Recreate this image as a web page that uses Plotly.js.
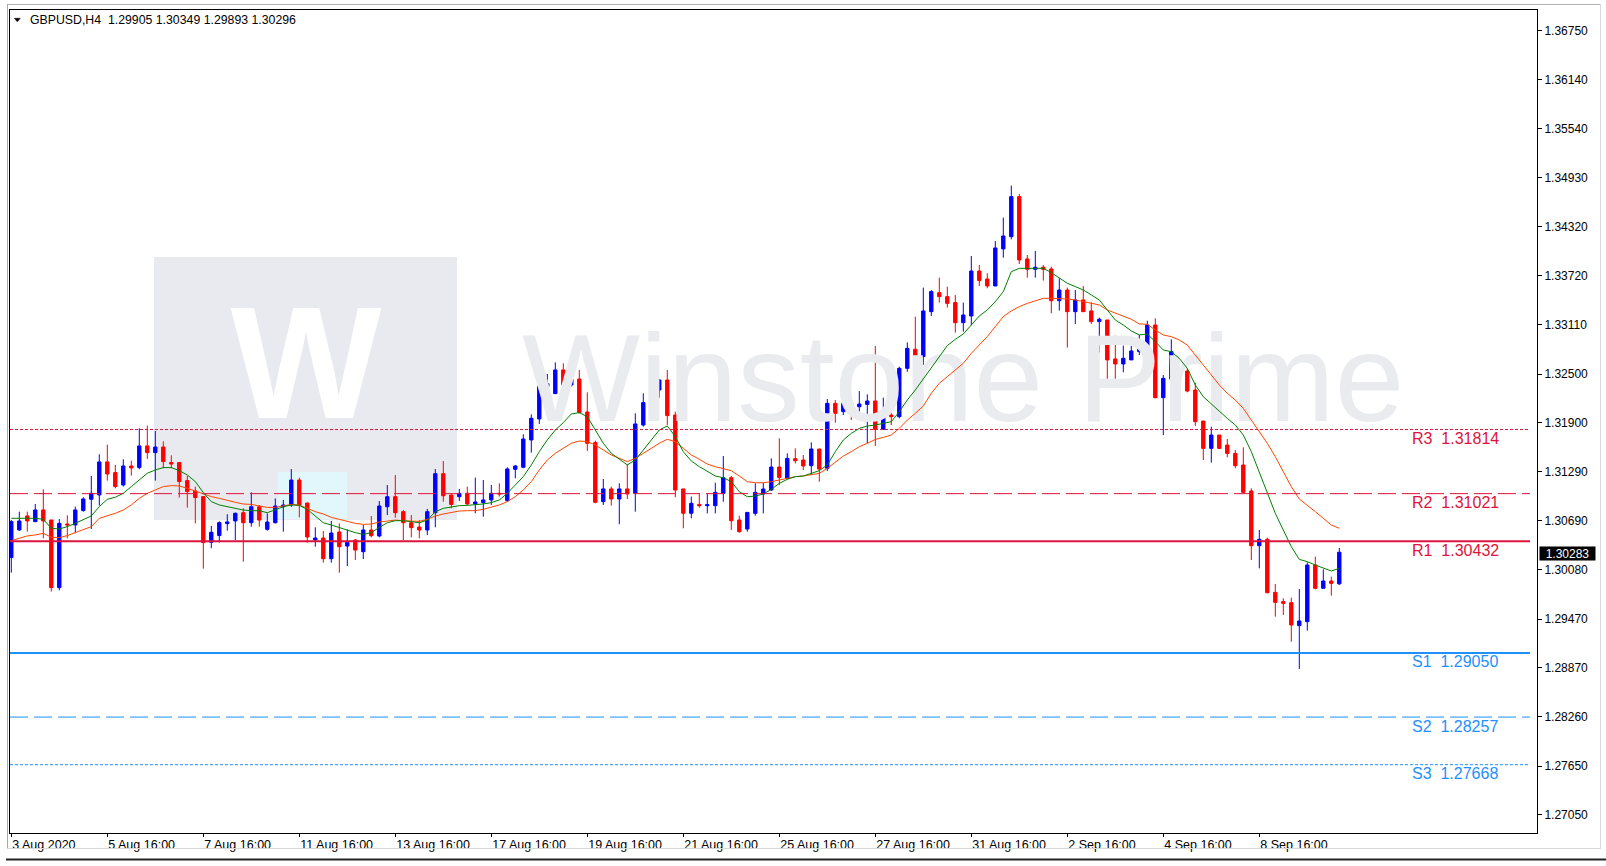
<!DOCTYPE html>
<html><head><meta charset="utf-8">
<script src="https://cdn.plot.ly/plotly-3.0.1.min.js"></script>
<style>html,body{margin:0;padding:0;background:#fff;}#chart{width:1606px;height:866px;}</style>
</head><body><div id="chart"></div>
<script>
// ---- data ----
const symbolTitle = "GBPUSD,H4";
const lastBarOHLC = [1.29905, 1.30349, 1.29893, 1.30296];
const currentPrice = 1.30283;

const openP = [1.30230,1.30572,1.30745,1.30675,1.30819,1.30695,1.29858,1.30646,1.30634,1.30811,
1.30951,1.31005,1.31413,1.31281,1.31128,1.31363,1.31343,1.31611,1.31528,1.31598,
1.31405,1.31405,1.31182,1.31054,1.30984,1.30419,1.30502,1.30650,1.30683,1.30785,
1.30661,1.30859,1.30579,1.30661,1.30859,1.30880,1.31189,1.30905,1.30447,1.30472,
1.30216,1.30546,1.30373,1.30447,1.30303,1.30571,1.30497,1.30859,1.30983,1.30798,
1.30661,1.30608,1.30571,1.30785,1.31268,1.31004,1.30983,1.31025,1.30893,1.30910,
1.30943,1.31025,1.30934,1.31322,1.31347,1.31685,1.31945,1.32344,1.32258,1.32551,
1.32365,1.32439,1.32031,1.31652,1.30922,1.31079,1.30955,1.31079,1.31025,1.31870,
1.32118,1.32303,1.32427,1.31994,1.31079,1.30778,1.30888,1.30872,1.30872,1.31024,
1.31218,1.30695,1.30583,1.30777,1.31016,1.31066,1.31350,1.31210,1.31453,1.31437,
1.31367,1.31573,1.31334,1.32138,1.32035,1.32138,1.32096,1.32125,1.32167,1.31816,
1.31993,1.31973,1.32571,1.32807,1.32716,1.33272,1.33507,1.33458,1.33384,1.33136,
1.33219,1.33775,1.33676,1.33590,1.34048,1.34200,1.34695,1.33924,1.33796,1.33821,
1.33800,1.33408,1.33540,1.33272,1.33417,1.33281,1.33149,1.33169,1.32687,1.32625,
1.32675,1.32778,1.32798,1.33107,1.32208,1.32439,1.32550,1.32538,1.32303,1.31919,
1.31581,1.31746,1.31622,1.31519,1.31375,1.31054,1.30377,1.30456,1.29800,1.29685,
1.29672,1.29388,1.29437,1.30138,1.29850,1.29940,1.29905];

const highP = [1.30695,1.30798,1.30798,1.30893,1.31075,1.30695,1.30708,1.30753,1.30860,1.30976,
1.31240,1.31508,1.31627,1.31376,1.31446,1.31429,1.31829,1.31862,1.31796,1.31668,
1.31495,1.31405,1.31240,1.31108,1.30984,1.30621,1.30679,1.30766,1.30786,1.30839,
1.31037,1.30880,1.30777,1.30962,1.30942,1.31325,1.31218,1.30905,1.30604,1.30558,
1.30682,1.30653,1.30579,1.30459,1.30633,1.30744,1.30929,1.31127,1.31251,1.30818,
1.30756,1.30694,1.30831,1.31325,1.31424,1.31010,1.31078,1.31108,1.31219,1.31190,
1.31128,1.31149,1.31347,1.31376,1.31755,1.32002,1.32415,1.32501,1.32645,1.32633,
1.32674,1.32551,1.32274,1.31677,1.31202,1.31108,1.31149,1.31384,1.32015,1.32262,
1.32353,1.32440,1.32551,1.32035,1.31079,1.30984,1.31024,1.31024,1.31156,1.31486,
1.31239,1.30748,1.30789,1.31148,1.31156,1.31457,1.31705,1.31519,1.31581,1.31499,
1.31655,1.31573,1.32191,1.32179,1.32241,1.32220,1.32290,1.32249,1.32847,1.32208,
1.32063,1.32591,1.32892,1.33211,1.33569,1.33540,1.33693,1.33582,1.33479,1.33384,
1.33961,1.33850,1.33747,1.34146,1.34435,1.34831,1.34728,1.33973,1.34023,1.33850,
1.33829,1.33685,1.33569,1.33540,1.33590,1.33388,1.33198,1.33169,1.32976,1.32852,
1.32852,1.32984,1.33160,1.33189,1.32488,1.32929,1.32600,1.32571,1.32393,1.31919,
1.31849,1.31746,1.31697,1.31561,1.31594,1.31087,1.30571,1.30476,1.29903,1.29726,
1.29734,1.29841,1.30171,1.30241,1.30085,1.29994,1.30349];

const lowP = [1.30044,1.30559,1.30551,1.30667,1.30469,1.29809,1.29825,1.30469,1.30530,1.30798,
1.30584,1.30873,1.31182,1.31087,1.31108,1.31244,1.31322,1.31450,1.31182,1.31334,
1.31334,1.30972,1.30848,1.30654,1.30093,1.30345,1.30415,1.30563,1.30448,1.30179,
1.30612,1.30612,1.30563,1.30653,1.30550,1.30859,1.30727,1.30414,1.30365,1.30167,
1.30167,1.30043,1.30126,1.30200,1.30212,1.30480,1.30480,1.30756,1.30723,1.30447,
1.30480,1.30468,1.30509,1.30604,1.30921,1.30839,1.30929,1.30881,1.30778,1.30736,
1.30881,1.30984,1.30922,1.31211,1.31334,1.31528,1.31883,1.32320,1.32258,1.32344,
1.32344,1.32015,1.31549,1.30901,1.30881,1.30873,1.30642,1.30955,1.30798,1.31850,
1.32056,1.32208,1.31870,1.30976,1.30592,1.30716,1.30847,1.30777,1.30777,1.30921,
1.30571,1.30538,1.30550,1.30748,1.30777,1.31057,1.31127,1.31198,1.31395,1.31313,
1.31251,1.31169,1.31301,1.31898,1.31993,1.31932,1.31973,1.31643,1.31610,1.31808,
1.31870,1.31952,1.32529,1.32683,1.32613,1.33219,1.33384,1.33322,1.33013,1.33025,
1.33107,1.33590,1.33561,1.33590,1.33940,1.34167,1.33862,1.33693,1.33693,1.33656,
1.33252,1.33285,1.32827,1.33120,1.33272,1.33120,1.32765,1.32427,1.32415,1.32522,
1.32675,1.32736,1.32550,1.32200,1.31746,1.32406,1.32393,1.32274,1.31858,1.31437,
1.31404,1.31573,1.31470,1.31334,1.31025,1.30200,1.30097,1.29788,1.29499,1.29520,
1.29190,1.28852,1.29326,1.29837,1.29850,1.29759,1.29893];

const closeP = [1.30675,1.30683,1.30683,1.30819,1.30683,1.29858,1.30654,1.30634,1.30819,1.30955,
1.31025,1.31413,1.31264,1.31108,1.31363,1.31339,1.31611,1.31528,1.31598,1.31417,
1.31388,1.31170,1.31046,1.30972,1.30415,1.30543,1.30662,1.30671,1.30778,1.30661,
1.30859,1.30694,1.30670,1.30868,1.30880,1.31189,1.30880,1.30484,1.30472,1.30216,
1.30534,1.30365,1.30418,1.30323,1.30571,1.30501,1.30868,1.30983,1.30785,1.30661,
1.30600,1.30571,1.30798,1.31268,1.30995,1.30888,1.31024,1.30893,1.30918,1.30943,
1.31025,1.31017,1.31326,1.31363,1.31697,1.31953,1.32353,1.32382,1.32551,1.32365,
1.32439,1.32023,1.31644,1.30914,1.31079,1.30955,1.31079,1.31017,1.31883,1.32147,
1.32316,1.32427,1.31986,1.31066,1.30778,1.30901,1.30872,1.30884,1.31037,1.31218,
1.30686,1.30550,1.30789,1.31037,1.31078,1.31350,1.31222,1.31457,1.31428,1.31363,
1.31573,1.31325,1.32138,1.32014,1.32138,1.32096,1.32129,1.32167,1.31816,1.31993,
1.31973,1.32571,1.32818,1.32716,1.33281,1.33520,1.33458,1.33375,1.33136,1.33231,
1.33775,1.33656,1.33590,1.34060,1.34208,1.34695,1.33911,1.33796,1.33821,1.33796,
1.33408,1.33540,1.33272,1.33417,1.33272,1.33149,1.33178,1.32675,1.32625,1.32695,
1.32786,1.32811,1.33107,1.32208,1.32447,1.32777,1.32530,1.32290,1.31911,1.31581,
1.31746,1.31581,1.31519,1.31367,1.31037,1.30377,1.30456,1.29796,1.29676,1.29664,
1.29396,1.29446,1.30138,1.29850,1.29940,1.29911,1.30296];

// moving averages as drawn on the reference (fast = green, slow = orange-red)
const maFast = [1.30716,1.30716,1.30716,1.30716,1.30704,1.30592,1.30584,1.30613,1.30654,1.30695,
1.30745,1.30860,1.30951,1.30976,1.31025,1.31108,1.31190,1.31273,1.31314,1.31343,
1.31343,1.31306,1.31252,1.31170,1.31033,1.30922,1.30881,1.30860,1.30848,1.30818,
1.30810,1.30810,1.30785,1.30818,1.30859,1.30880,1.30876,1.30826,1.30744,1.30661,
1.30633,1.30600,1.30571,1.30538,1.30517,1.30538,1.30604,1.30661,1.30686,1.30686,
1.30674,1.30661,1.30694,1.30798,1.30839,1.30859,1.30872,1.30876,1.30881,1.30893,
1.30910,1.30943,1.31025,1.31128,1.31231,1.31376,1.31540,1.31685,1.31808,1.31899,
1.32006,1.32023,1.31973,1.31808,1.31644,1.31520,1.31446,1.31376,1.31437,1.31561,
1.31685,1.31808,1.31858,1.31726,1.31540,1.31425,1.31355,1.31301,1.31239,1.31218,
1.31169,1.31045,1.30983,1.30991,1.31016,1.31074,1.31148,1.31198,1.31231,1.31239,
1.31272,1.31305,1.31375,1.31540,1.31684,1.31767,1.31828,1.31857,1.31870,1.31890,
1.31911,1.32035,1.32179,1.32303,1.32439,1.32572,1.32716,1.32852,1.32930,1.32996,
1.33107,1.33219,1.33293,1.33396,1.33520,1.33767,1.33808,1.33808,1.33808,1.33808,
1.33755,1.33685,1.33623,1.33582,1.33540,1.33479,1.33417,1.33293,1.33169,1.33107,
1.33033,1.32984,1.32996,1.32901,1.32798,1.32777,1.32694,1.32571,1.32365,1.32220,
1.32130,1.32035,1.31952,1.31870,1.31746,1.31540,1.31293,1.31025,1.30777,1.30571,
1.30365,1.30208,1.30179,1.30138,1.30097,1.30064,1.30097];

const maSlow = [1.30440,1.30469,1.30498,1.30510,1.30530,1.30481,1.30477,1.30502,1.30539,1.30572,
1.30613,1.30716,1.30745,1.30778,1.30819,1.30881,1.30963,1.31025,1.31066,1.31108,
1.31120,1.31116,1.31087,1.31054,1.31017,1.30984,1.30963,1.30943,1.30914,1.30892,
1.30888,1.30868,1.30851,1.30851,1.30868,1.30888,1.30880,1.30839,1.30798,1.30769,
1.30727,1.30703,1.30674,1.30653,1.30641,1.30645,1.30670,1.30686,1.30694,1.30686,
1.30682,1.30678,1.30703,1.30744,1.30769,1.30785,1.30806,1.30810,1.30811,1.30827,
1.30852,1.30881,1.30922,1.30984,1.31066,1.31169,1.31314,1.31437,1.31520,1.31582,
1.31644,1.31672,1.31664,1.31623,1.31561,1.31499,1.31458,1.31417,1.31458,1.31520,
1.31582,1.31644,1.31693,1.31664,1.31582,1.31499,1.31446,1.31387,1.31354,1.31334,
1.31305,1.31239,1.31169,1.31156,1.31156,1.31169,1.31189,1.31214,1.31231,1.31239,
1.31251,1.31272,1.31334,1.31416,1.31486,1.31540,1.31602,1.31643,1.31692,1.31717,
1.31746,1.31828,1.31931,1.32015,1.32105,1.32262,1.32386,1.32468,1.32551,1.32633,
1.32757,1.32860,1.32963,1.33087,1.33211,1.33281,1.33334,1.33375,1.33404,1.33437,
1.33437,1.33437,1.33429,1.33417,1.33396,1.33384,1.33355,1.33293,1.33252,1.33211,
1.33178,1.33120,1.33116,1.33045,1.32983,1.32963,1.32921,1.32859,1.32736,1.32612,
1.32488,1.32365,1.32262,1.32179,1.32076,1.31932,1.31787,1.31643,1.31478,1.31293,
1.31107,1.30955,1.30880,1.30798,1.30715,1.30633,1.30592];

const timeLabels = ["3 Aug 2020","5 Aug 16:00","7 Aug 16:00","11 Aug 16:00","13 Aug 16:00",
"17 Aug 16:00","19 Aug 16:00","21 Aug 16:00","25 Aug 16:00","27 Aug 16:00",
"31 Aug 16:00","2 Sep 16:00","4 Sep 16:00","8 Sep 16:00"];
const barsPerLabel = 12;

const priceTicks = [1.36750,1.36140,1.35540,1.34930,1.34320,1.33720,1.33110,1.32500,1.31900,
1.31290,1.30690,1.30080,1.29470,1.28870,1.28260,1.27650,1.27050];

const levelNames = ["R3","R2","R1","S1","S2","S3"];
const levelValues = [1.31814,1.31021,1.30432,1.29050,1.28257,1.27668];

// ---- layout geometry (pixels of the 1606x866 page) ----
const W = 1606, H = 866;
const PL = 10, PR = 1537, PT = 10, PB = 833;
const pw = PR - PL, ph = PB - PT;
const barPx = 8, bar0Px = 11.3;
const yTopPrice = 1.370036, yBotPrice = 1.268230;
const px2x = p => (p - bar0Px) / barPx;
const py2price = p => yTopPrice - (p - PT) / ph * (yTopPrice - yBotPrice);
const ppx = p => (p - PL) / pw;
const ppy = p => (PB - p) / ph;

const idx = openP.map((_, i) => i);
const FONT = "Liberation Sans, Arial, sans-serif";
const RED = "#dc143c", BLUE = "#1e90ff";

const traces = [
  { // watermark logo letter
    type: "scatter", mode: "text", x: [px2x(306)], y: [py2price(378)], text: ["W"],
    textposition: "middle center", hoverinfo: "skip",
    textfont: {family: FONT, size: 160, color: "#ffffff", weight: "bold"}
  },
  { // watermark brand text
    type: "scatter", mode: "text", x: [px2x(522)], y: [py2price(390)], text: ["Winstone Prime"],
    textposition: "middle right", hoverinfo: "skip",
    textfont: {family: FONT, size: 125, color: "#e9ebef"}
  },
  {
    type: "candlestick", x: idx, open: openP, high: highP, low: lowP, close: closeP,
    increasing: {line: {color: "#0000ff", width: 1}, fillcolor: "#0000ff"},
    decreasing: {line: {color: "#ff0000", width: 1}, fillcolor: "#ff0000"},
    whiskerwidth: 0, hoverinfo: "skip"
  },
  {type: "scatter", mode: "lines", x: idx, y: maSlow, line: {color: "#ff4500", width: 1}, hoverinfo: "skip"},
  {type: "scatter", mode: "lines", x: idx, y: maFast, line: {color: "#008000", width: 1}, hoverinfo: "skip"}
];

const levelDash = ["3px,2px", "18px,6px", "solid", "solid", "18px,6px", "3px,2px"];
const levelWidth = [1, 1, 2, 2, 1, 1];

const shapes = [
  // watermark box
  {type: "rect", layer: "below", xref: "paper", yref: "paper", x0: ppx(154), x1: ppx(457), y0: ppy(520), y1: ppy(257),
   fillcolor: "#e8eaf0", line: {width: 0}},
  {type: "rect", layer: "below", xref: "paper", yref: "paper", x0: ppx(278), x1: ppx(347), y0: ppy(519), y1: ppy(472),
   fillcolor: "#e2f7fb", line: {width: 0}},
  // window borders
  {type: "line", xref: "paper", yref: "paper", x0: ppx(7), x1: ppx(1600), y0: ppy(4.5), y1: ppy(4.5), line: {color: "#b4b4b4", width: 1}},
  {type: "line", xref: "paper", yref: "paper", x0: ppx(7.5), x1: ppx(7.5), y0: ppy(4), y1: ppy(849), line: {color: "#a8a8a8", width: 1}},
  {type: "line", xref: "paper", yref: "paper", x0: ppx(1600.5), x1: ppx(1600.5), y0: ppy(4), y1: ppy(849), line: {color: "#d8d8d8", width: 1}},
  {type: "line", xref: "paper", yref: "paper", x0: ppx(7), x1: ppx(1601), y0: ppy(848.5), y1: ppy(848.5), line: {color: "#d8d8d8", width: 1}},
  {type: "line", xref: "paper", yref: "paper", x0: ppx(6), x1: ppx(1606), y0: ppy(859.5), y1: ppy(859.5), line: {color: "#222222", width: 2}},
  // title triangle
  {type: "path", xref: "paper", yref: "paper",
   path: `M ${ppx(14.3)},${ppy(18.3)} L ${ppx(20.3)},${ppy(18.3)} L ${ppx(17.3)},${ppy(21.8)} Z`,
   fillcolor: "#000", line: {color: "#000", width: 0.5}}
];
levelValues.forEach((v, i) => {
  const col = levelNames[i][0] === "R" ? RED : BLUE;
  shapes.push({type: "line", xref: "paper", yref: "y", x0: 0, x1: ppx(1530), y0: v, y1: v,
    line: {color: col, width: levelWidth[i], dash: levelDash[i]}});
});

const annotations = [
  {xref: "paper", yref: "paper", x: ppx(27.5), y: ppy(20), xanchor: "left", yanchor: "middle", showarrow: false,
   text: symbolTitle + "\u00a0\u00a0" + lastBarOHLC.map(v => v.toFixed(5)).join(" "),
   font: {family: FONT, size: 12.3, color: "#000"}},
  {xref: "paper", yref: "y", x: ppx(1539), y: currentPrice, xanchor: "left", yanchor: "middle", showarrow: false,
   text: currentPrice.toFixed(5), bgcolor: "#000", borderpad: 0, width: 55, height: 13, align: "center",
   font: {family: FONT, size: 12, color: "#fff"}}
];
levelValues.forEach((v, i) => {
  const col = levelNames[i][0] === "R" ? RED : BLUE;
  annotations.push({xref: "paper", yref: "y", x: ppx(1410), y: v, xanchor: "left", yanchor: "middle", yshift: -9,
    showarrow: false, text: levelNames[i] + "\u00a0\u00a0" + v.toFixed(5),
    font: {family: FONT, size: 16, color: col}});
});

const layout = {
  width: W, height: H,
  margin: {l: PL, r: W - PR, t: PT, b: H - PB, pad: 0},
  paper_bgcolor: "#fff", plot_bgcolor: "#fff",
  showlegend: false, hovermode: false, boxgap: 0.4,
  xaxis: {
    range: [px2x(PL), px2x(PR)], showgrid: false, zeroline: false,
    showline: true, mirror: true, linecolor: "#000", linewidth: 1,
    ticks: "outside", ticklen: 3, tickcolor: "#000", tickwidth: 1,
    tickvals: timeLabels.map((_, i) => i * barsPerLabel), ticktext: timeLabels,
    ticklabelposition: "outside right",
    tickfont: {family: FONT, size: 12.5, color: "#000"},
    rangeslider: {visible: false}, fixedrange: true
  },
  yaxis: {
    side: "right", range: [yBotPrice, yTopPrice], showgrid: false, zeroline: false,
    showline: true, mirror: true, linecolor: "#000", linewidth: 1,
    ticks: "outside", ticklen: 4, tickcolor: "#000", tickwidth: 1,
    tickvals: priceTicks, ticktext: priceTicks.map(v => v.toFixed(5)),
    tickfont: {family: FONT, size: 12, color: "#000"}, fixedrange: true
  },
  shapes: shapes, annotations: annotations
};

Plotly.newPlot("chart", traces, layout, {staticPlot: true, displayModeBar: false});
</script>
</body></html>
